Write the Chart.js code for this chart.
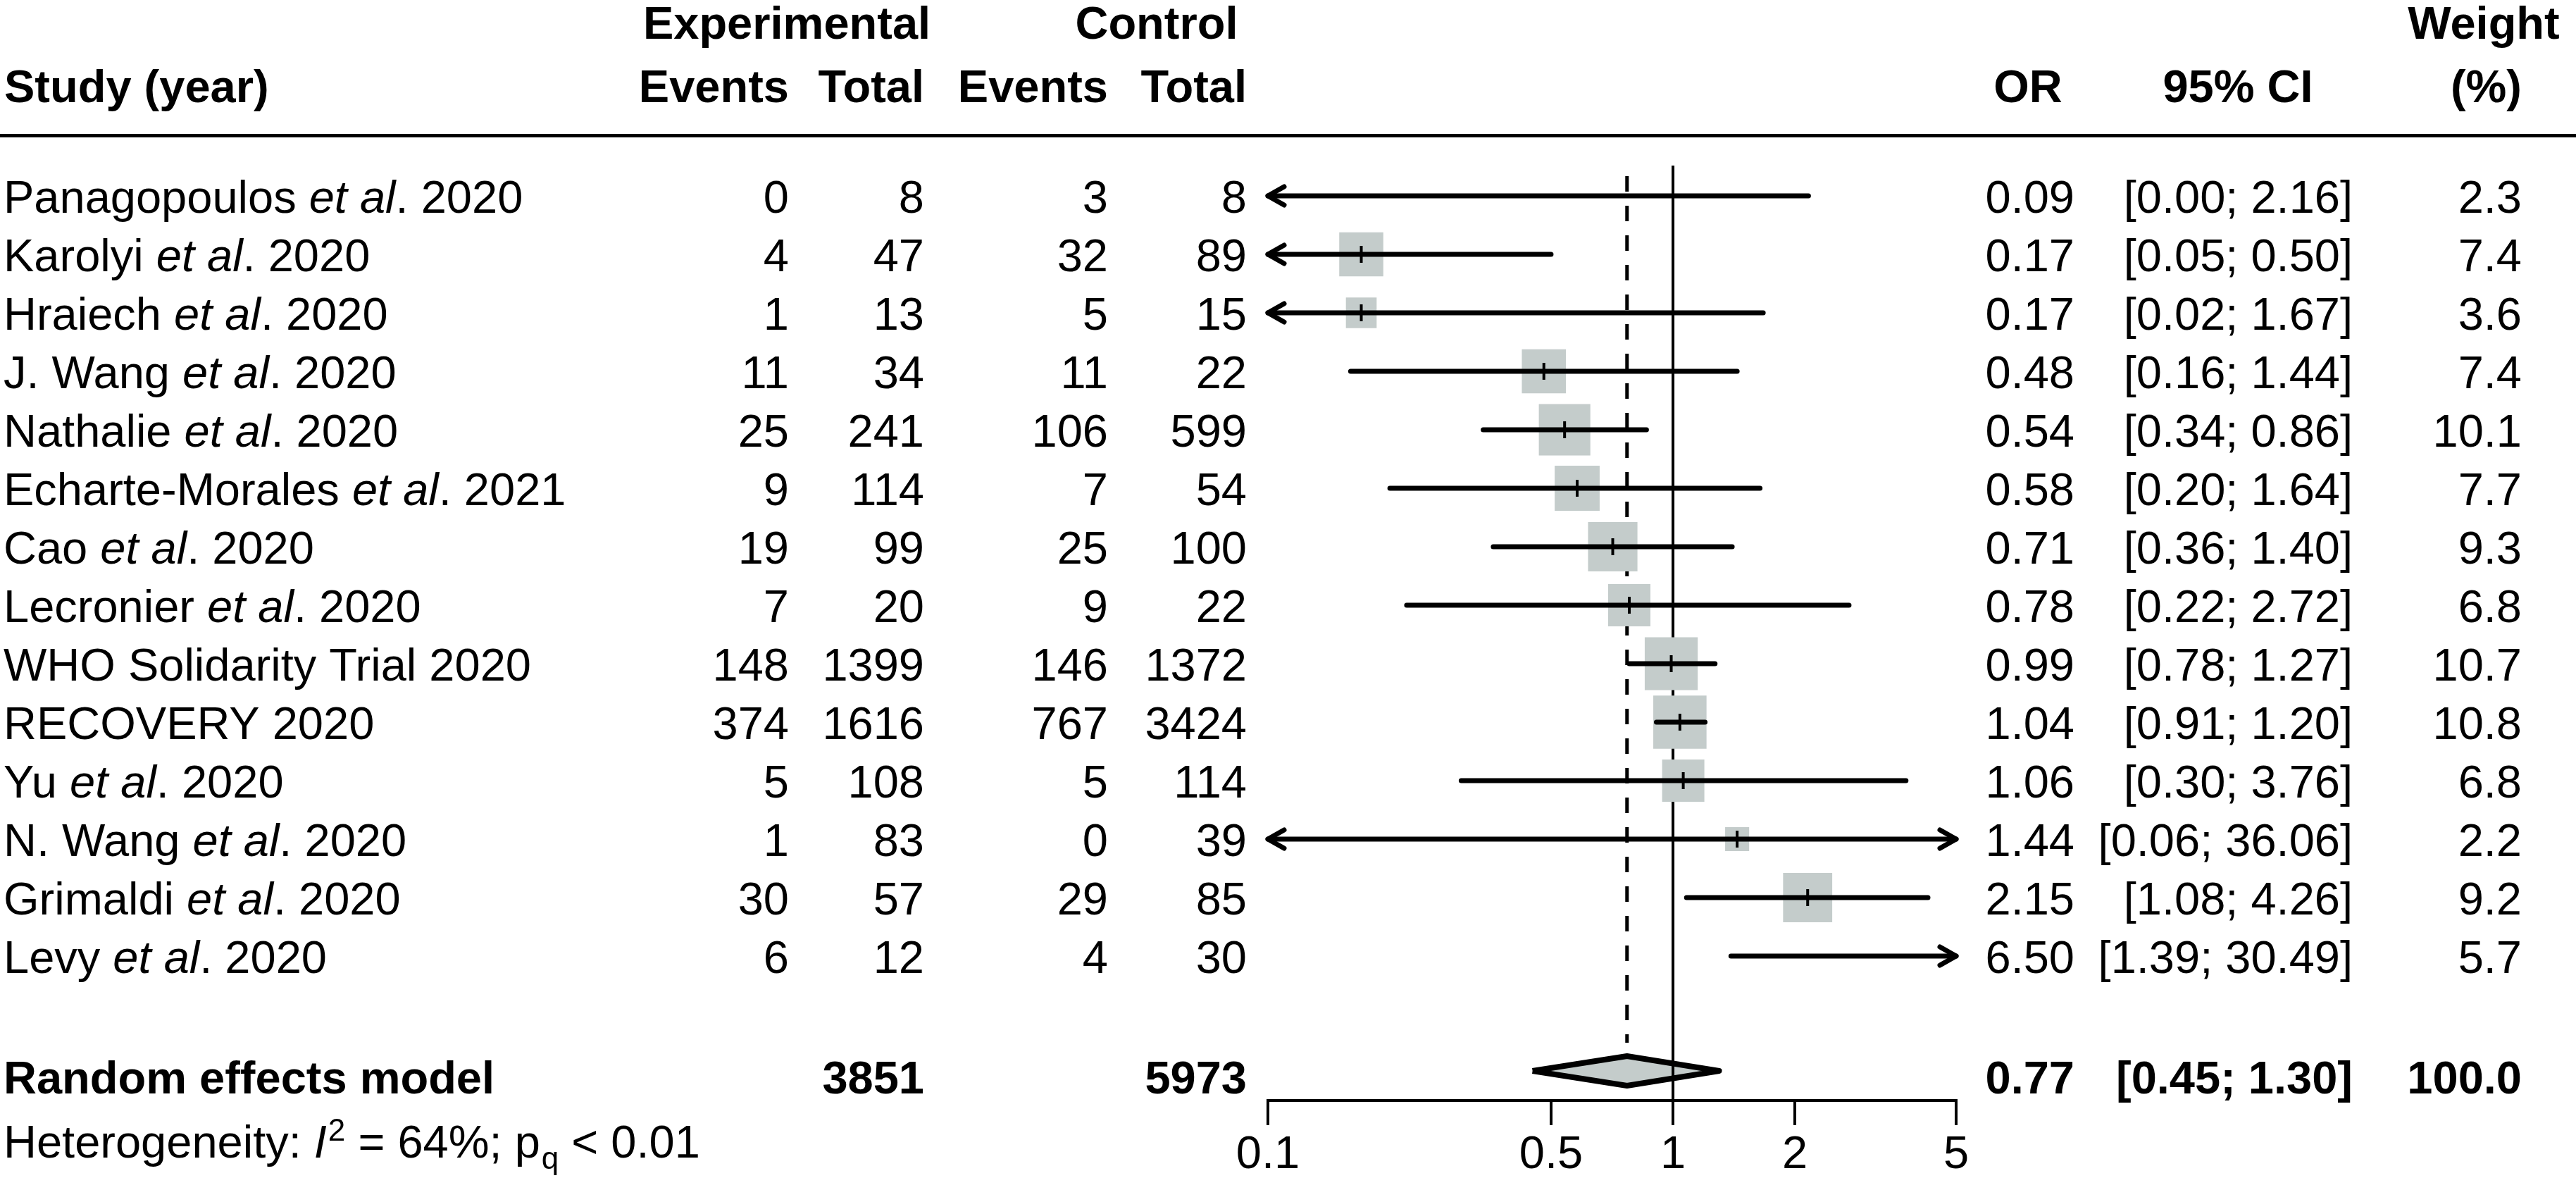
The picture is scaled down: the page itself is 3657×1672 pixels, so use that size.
<!DOCTYPE html>
<html>
<head>
<meta charset="utf-8">
<script src="https://cdn.jsdelivr.net/npm/chart.js"></script>
<style>
  html, body { margin: 0; padding: 0; background: #fff; overflow: hidden; }
  #wrap { width: 3657px; height: 1672px; }
</style>
</head>
<body>
<div id="wrap"><canvas id="forest" width="3657" height="1672"></canvas></div>
<script>
// studies, top to bottom
const studyNames = ['Panagopoulos', 'Karolyi', 'Hraiech', 'J. Wang', 'Nathalie', 'Echarte-Morales', 'Cao',
    'Lecronier', 'WHO Solidarity Trial', 'RECOVERY', 'Yu', 'N. Wang', 'Grimaldi', 'Levy'];
const studyEtAl = [true, true, true, true, true, true, true, true, false, false, true, true, true, true];
const studyYears = [2020, 2020, 2020, 2020, 2020, 2021, 2020, 2020, 2020, 2020, 2020, 2020, 2020, 2020];

const expEvents = [0, 4, 1, 11, 25, 9, 19, 7, 148, 374, 5, 1, 30, 6];
const expTotal = [8, 47, 13, 34, 241, 114, 99, 20, 1399, 1616, 108, 83, 57, 12];
const ctrlEvents = [3, 32, 5, 11, 106, 7, 25, 9, 146, 767, 5, 0, 29, 4];
const ctrlTotal = [8, 89, 15, 22, 599, 54, 100, 22, 1372, 3424, 114, 39, 85, 30];

const oddsRatio = [0.09, 0.17, 0.17, 0.48, 0.54, 0.58, 0.71, 0.78, 0.99, 1.04, 1.06, 1.44, 2.15, 6.50];
const ciLow = [0.00, 0.05, 0.02, 0.16, 0.34, 0.20, 0.36, 0.22, 0.78, 0.91, 0.30, 0.06, 1.08, 1.39];
const ciHigh = [2.16, 0.50, 1.67, 1.44, 0.86, 1.64, 1.40, 2.72, 1.27, 1.20, 3.76, 36.06, 4.26, 30.49];
const weights = [2.3, 7.4, 3.6, 7.4, 10.1, 7.7, 9.3, 6.8, 10.7, 10.8, 6.8, 2.2, 9.2, 5.7];

// random effects model
const pooledOR = [0.77];
const pooledCI = [0.45, 1.30];
const pooledTotals = [3851, 5973];
const pooledWeight = [100.0];

const xTicks = [0.1, 0.5, 1, 2, 5];
const xTickLabels = ['0.1', '0.5', '1', '2', '5'];

// layout
const W = 3657, H = 1672;
const FONT = '"Liberation Sans", Arial, Helvetica, sans-serif';
const FS = 65;
const PLOT_LEFT = 1800, PLOT_RIGHT = 2777, AXIS_Y = 1562;
const ROW0 = 278, ROW_H = 83;
const BOX = '#c4cccb';

const xMin = xTicks[0], xMax = xTicks[xTicks.length - 1];
const clampX = v => Math.min(Math.max(v, xMin), xMax);
const inRange = v => v >= xMin && v <= xMax;
const toRow = px => (px - ROW0) / ROW_H;
const rows = studyNames.map((_, i) => i);
const pooledRow = toRow(1520);
const diamondHalf = 21 / ROW_H;

const ciSets = rows.map(i => ({
    data: [{ x: clampX(ciLow[i]), y: i }, { x: clampX(ciHigh[i]), y: i }],
    showLine: true,
    borderColor: '#000',
    borderWidth: 7,
    borderCapStyle: 'round',
    pointRadius: 0,
    clip: false,
    order: 1
}));

const shown = rows.filter(i => inRange(oddsRatio[i]));

const squareSet = {
    data: shown.map(i => ({ x: oddsRatio[i], y: i, w: weights[i] })),
    pointStyle: 'rect',
    pointRadius: c => 23 * Math.sqrt(c.raw.w) / Math.SQRT2,
    backgroundColor: BOX,
    borderWidth: 0,
    order: 2
};

const markSet = {
    data: shown.map(i => ({ x: oddsRatio[i], y: i })),
    pointStyle: 'line',
    rotation: 90,
    pointRadius: 12,
    borderColor: '#000',
    borderWidth: 4,
    order: 0
};

const nullLine = {
    data: [{ x: 1, y: toRow(235) }, { x: 1, y: toRow(AXIS_Y) }],
    showLine: true, borderColor: '#000', borderWidth: 4, pointRadius: 0, clip: false, order: 3
};

const pooledLine = {
    data: [{ x: pooledOR[0], y: toRow(250) }, { x: pooledOR[0], y: toRow(1480) }],
    showLine: true, borderColor: '#000', borderWidth: 5, borderDash: [22, 20], pointRadius: 0, clip: false, order: 3
};

const diamondSet = {
    data: [
        { x: pooledCI[0], y: pooledRow },
        { x: pooledOR[0], y: pooledRow - diamondHalf },
        { x: pooledCI[1], y: pooledRow },
        { x: pooledOR[0], y: pooledRow + diamondHalf },
        { x: pooledCI[0], y: pooledRow }
    ],
    showLine: true,
    fill: 'shape',
    backgroundColor: BOX,
    borderColor: '#000',
    borderWidth: 8,
    borderJoinStyle: 'round',
    pointRadius: 0,
    clip: false,
    order: 4
};

// arrow heads where a CI runs past the axis
const arrowPlugin = {
    id: 'arrows',
    afterDatasetsDraw(chart) {
        const ctx = chart.ctx;
        const x = chart.scales.x, y = chart.scales.y;
        ctx.save();
        ctx.strokeStyle = '#000';
        ctx.lineWidth = 7;
        ctx.lineCap = 'round';
        ctx.lineJoin = 'round';
        rows.forEach(i => {
            const py = y.getPixelForValue(i);
            if (ciLow[i] < xMin) {
                const px = x.getPixelForValue(xMin);
                ctx.beginPath();
                ctx.moveTo(px + 23, py - 13);
                ctx.lineTo(px, py);
                ctx.lineTo(px + 23, py + 13);
                ctx.stroke();
            }
            if (ciHigh[i] > xMax) {
                const px = x.getPixelForValue(xMax);
                ctx.beginPath();
                ctx.moveTo(px - 23, py - 13);
                ctx.lineTo(px, py);
                ctx.lineTo(px - 23, py + 13);
                ctx.stroke();
            }
        });
        ctx.restore();
    }
};

// the table round the plot
const tablePlugin = {
    id: 'table',
    afterDraw(chart) {
        const ctx = chart.ctx;
        const y = chart.scales.y;
        ctx.save();
        ctx.fillStyle = '#000';
        ctx.textBaseline = 'alphabetic';

        function txt(s, x, yb, align, style, size) {
            ctx.font = (style || '') + ' ' + (size || FS) + 'px ' + FONT;
            ctx.textAlign = align;
            ctx.fillText(s, x, yb);
            return ctx.measureText(s).width;
        }

        // headers
        txt('Experimental', 1117, 55, 'center', 'bold');
        txt('Control', 1642, 55, 'center', 'bold');
        txt('Weight', 3526, 55, 'center', 'bold');
        txt('Study (year)', 6, 145, 'left', 'bold');
        txt('Events', 1120, 145, 'right', 'bold');
        txt('Total', 1312, 145, 'right', 'bold');
        txt('Events', 1573, 145, 'right', 'bold');
        txt('Total', 1770, 145, 'right', 'bold');
        txt('OR', 2879, 145, 'center', 'bold');
        txt('95% CI', 3177, 145, 'center', 'bold');
        txt('(%)', 3580, 145, 'right', 'bold');
        ctx.fillRect(0, 190, W, 5);

        rows.forEach(i => {
            const yb = y.getPixelForValue(i) + 24;
            let x = 5;
            if (studyEtAl[i]) {
                x += txt(studyNames[i] + ' ', x, yb, 'left');
                x += txt('et al', x, yb, 'left', 'italic');
                txt('. ' + studyYears[i], x, yb, 'left');
            } else {
                txt(studyNames[i] + ' ' + studyYears[i], x, yb, 'left');
            }
            txt(String(expEvents[i]), 1120, yb, 'right');
            txt(String(expTotal[i]), 1312, yb, 'right');
            txt(String(ctrlEvents[i]), 1573, yb, 'right');
            txt(String(ctrlTotal[i]), 1770, yb, 'right');
            txt(oddsRatio[i].toFixed(2), 2945, yb, 'right');
            txt('[' + ciLow[i].toFixed(2) + '; ' + ciHigh[i].toFixed(2) + ']', 3340, yb, 'right');
            txt(weights[i].toFixed(1), 3580, yb, 'right');
        });

        // pooled row
        txt('Random effects model', 5, 1552, 'left', 'bold');
        txt(String(pooledTotals[0]), 1312, 1552, 'right', 'bold');
        txt(String(pooledTotals[1]), 1770, 1552, 'right', 'bold');
        txt(pooledOR[0].toFixed(2), 2945, 1552, 'right', 'bold');
        txt('[' + pooledCI[0].toFixed(2) + '; ' + pooledCI[1].toFixed(2) + ']', 3340, 1552, 'right', 'bold');
        txt(pooledWeight[0].toFixed(1), 3580, 1552, 'right', 'bold');

        // heterogeneity
        let hx = 5;
        const hb = 1643;
        hx += txt('Heterogeneity: ', hx, hb, 'left');
        hx += txt('I', hx, hb, 'left', 'italic');
        hx += txt('2', hx + 2, hb - 24, 'left', '', 44) + 2;
        hx += txt(' = 64%; p', hx, hb, 'left');
        hx += txt('q', hx + 2, hb + 16, 'left', '', 44) + 2;
        txt(' < 0.01', hx, hb, 'left');

        ctx.restore();
    }
};

new Chart(document.getElementById('forest'), {
    type: 'scatter',
    data: {
        datasets: [markSet, ...ciSets, squareSet, nullLine, pooledLine, diamondSet]
    },
    options: {
        responsive: false,
        devicePixelRatio: 1,
        animation: false,
        events: [],
        layout: { autoPadding: false, padding: { left: PLOT_LEFT, right: W - PLOT_RIGHT, top: 0, bottom: 0 } },
        plugins: { legend: { display: false }, tooltip: { enabled: false } },
        scales: {
            x: {
                type: 'logarithmic',
                min: xMin,
                max: xMax,
                position: 'bottom',
                afterBuildTicks: s => { s.ticks = xTicks.map(v => ({ value: v })); },
                afterFit: s => { s.height = H - AXIS_Y; },
                grid: { display: true, drawOnChartArea: false, drawTicks: true, tickLength: 35, lineWidth: 4, tickWidth: 4, tickColor: '#000', color: '#000' },
                border: { display: true, color: '#000', width: 4 },
                ticks: {
                    autoSkip: false, maxRotation: 0, padding: 4, color: '#000',
                    font: { family: FONT, size: FS },
                    callback: (v, i) => xTickLabels[i]
                }
            },
            y: {
                type: 'linear',
                reverse: true,
                display: false,
                min: toRow(0),
                max: toRow(AXIS_Y)
            }
        }
    },
    plugins: [arrowPlugin, tablePlugin]
});
</script>
</body>
</html>
